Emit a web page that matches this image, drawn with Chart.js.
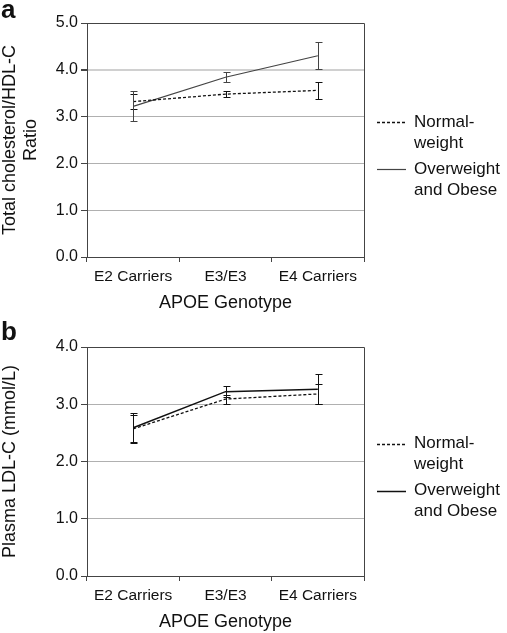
<!DOCTYPE html>
<html>
<head>
<meta charset="utf-8">
<script src="https://cdn.jsdelivr.net/npm/chart.js@4.4.0/dist/chart.umd.min.js"></script>
<style>
  body { margin: 0; background: #fff; width: 507px; height: 633px; overflow: hidden; position: relative; font-family: "Liberation Sans", Arial, sans-serif; }
  canvas { position: absolute; left: 0; }
  .tag { position: absolute; left: 1px; font-weight: bold; font-size: 26px; line-height: 1; color: #111; }
</style>
</head>
<body>
<canvas id="ratioChart" width="507" height="314" style="top:0"></canvas>
<canvas id="ldlChart" width="507" height="319" style="top:314px"></canvas>
<div class="tag" style="top:-4px">a</div>
<div class="tag" style="top:318px">b</div>
<script>
// data
const genotypes = ['E2 Carriers', 'E3/E3', 'E4 Carriers'];
const normalLabel = ['Normal-', 'weight'];
const overLabel = ['Overweight', 'and Obese'];

const ratioNormal = [3.32, 3.48, 3.56];
const ratioNormalErr = [0.16, 0.07, 0.18];
const ratioOver = [3.22, 3.84, 4.30];
const ratioOverErr = [0.32, 0.11, 0.29];

const ldlNormal = [2.57, 3.09, 3.18];
const ldlNormalErr = [0.25, 0.08, 0.18];
const ldlOver = [2.59, 3.22, 3.26];
const ldlOverErr = [0.25, 0.10, 0.26];

const FONT = '"Liberation Sans", Arial, sans-serif';

// vertical error bars with small caps
const errorBars = {
  id: 'errorBars',
  afterDatasetsDraw(chart) {
    const ctx = chart.ctx;
    const y = chart.scales.y;
    chart.data.datasets.forEach((ds, i) => {
      const meta = chart.getDatasetMeta(i);
      ctx.save();
      ctx.strokeStyle = ds.borderColor;
      ctx.lineWidth = 1;
      meta.data.forEach((pt, j) => {
        const px = Math.round(pt.x) + 0.5;
        const top = Math.round(y.getPixelForValue(ds.data[j] + ds.errors[j])) + 0.5;
        const bot = Math.round(y.getPixelForValue(ds.data[j] - ds.errors[j])) + 0.5;
        ctx.beginPath();
        ctx.moveTo(px, top); ctx.lineTo(px, bot);
        ctx.moveTo(px - 3, top); ctx.lineTo(px + 4, top);
        ctx.moveTo(px - 3, bot); ctx.lineTo(px + 4, bot);
        ctx.stroke();
      });
      ctx.restore();
    });
  }
};

// top and right edges of the plot box
const frame = {
  id: 'frame',
  afterDraw(chart) {
    const { ctx, chartArea: a } = chart;
    ctx.save();
    ctx.strokeStyle = '#444';
    ctx.lineWidth = 1;
    ctx.beginPath();
    ctx.moveTo(Math.round(a.left) + 0.5, Math.round(a.top) + 0.5);
    ctx.lineTo(Math.round(a.right) + 0.5, Math.round(a.top) + 0.5);
    ctx.lineTo(Math.round(a.right) + 0.5, Math.round(a.bottom) + 0.5);
    ctx.stroke();
    ctx.restore();
  }
};

// legend on the right with two-line labels
const sideLegend = {
  id: 'sideLegend',
  afterDraw(chart) {
    const { ctx, chartArea: a } = chart;
    let yy = (a.top + a.bottom) / 2 - 18;
    ctx.save();
    ctx.font = '17px ' + FONT;
    ctx.textBaseline = 'middle';
    ctx.fillStyle = '#111';
    chart.data.datasets.forEach(ds => {
      ctx.strokeStyle = ds.borderColor;
      ctx.lineWidth = ds.borderWidth;
      ctx.setLineDash(ds.borderDash || []);
      ctx.beginPath();
      ctx.moveTo(a.right + 13, Math.round(yy) + 0.5);
      ctx.lineTo(a.right + 42, Math.round(yy) + 0.5);
      ctx.stroke();
      ctx.setLineDash([]);
      ds.label.forEach((t, k) => ctx.fillText(t, a.right + 50, yy + k * 21));
      yy += 47;
    });
    ctx.restore();
  }
};

function makeChart(id, normal, normalErr, over, overErr, overColor, overWidth, yMax, yTitle, padTop) {
  return new Chart(document.getElementById(id), {
    type: 'line',
    data: {
      labels: genotypes,
      datasets: [
        { label: normalLabel, data: normal, errors: normalErr, borderColor: '#111', borderWidth: 1.3, borderDash: [3, 2], pointRadius: 0, tension: 0 },
        { label: overLabel, data: over, errors: overErr, borderColor: overColor, borderWidth: overWidth, pointRadius: 0, tension: 0 }
      ]
    },
    options: {
      responsive: false,
      animation: false,
      devicePixelRatio: 1,
      layout: { padding: { top: padTop, right: 143, left: 0, bottom: 0 } },
      plugins: { legend: { display: false }, tooltip: { enabled: false } },
      scales: {
        x: {
          offset: true,
          grid: { offset: true, drawOnChartArea: false, drawTicks: true, tickLength: 5, tickColor: '#444' },
          border: { color: '#444' },
          ticks: { color: '#111', font: { family: FONT, size: 15.5 }, padding: 5, maxRotation: 0 },
          title: { display: true, text: 'APOE Genotype', color: '#111', font: { family: FONT, size: 18 }, padding: { top: 4, bottom: 0 } },
          afterFit: s => { s.height = 57; }
        },
        y: {
          min: 0, max: yMax,
          ticks: { stepSize: 1, color: '#111', font: { family: FONT, size: 16 }, padding: 3, callback: v => v.toFixed(1) },
          grid: {
            color: c => (yMax === 5 && c.tick && c.tick.value === 4) ? '#d0d0d0' : '#b0b0b0',
            lineWidth: c => (yMax === 5 && c.tick && c.tick.value === 4) ? 2 : 1,
            tickLength: 6, tickColor: '#444'
          },
          border: { color: '#444' },
          title: { display: true, text: yTitle, color: '#111', font: { family: FONT, size: 18, lineHeight: 1.15 }, padding: 0 },
          afterFit: s => { s.width = 87; }
        }
      }
    },
    plugins: [errorBars, frame, sideLegend]
  });
}

makeChart('ratioChart', ratioNormal, ratioNormalErr, ratioOver, ratioOverErr, '#444', 1.2, 5,
  ['Total cholesterol/HDL-C', 'Ratio'], 23);
makeChart('ldlChart', ldlNormal, ldlNormalErr, ldlOver, ldlOverErr, '#111', 1.5, 4,
  'Plasma LDL-C (mmol/L)', 33);
</script>
</body>
</html>
